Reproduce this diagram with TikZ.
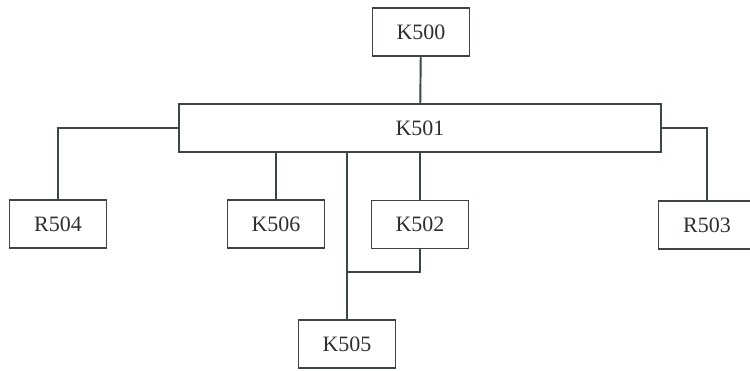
\documentclass[tikz,border=0pt]{standalone}
\usepackage{fontspec}
\setmainfont{Liberation Serif}
\usepackage{tikz}
\usetikzlibrary{positioning}

\definecolor{linec}{RGB}{60,70,68}
\definecolor{textc}{RGB}{45,48,48}

\begin{document}
\begin{tikzpicture}[x=0.02cm,y=-0.02cm,
  unit/.style={draw=linec,line width=1.1pt,fill=white,text=textc,inner sep=0pt,
    minimum width=1.94cm,minimum height=0.96cm,font=\fontsize{12.5}{14}\selectfont},
  wire/.style={draw=linec,line width=1.1pt}]
  \useasboundingbox[fill=white] (0,0) rectangle (750,371);
  \node[unit] (k500) at (421,32) {K500};
  \node[unit,minimum width=9.64cm] (k501) at (420,128) {K501};
  \node[unit] (r504) at (58,224) {R504};
  \node[unit] (k506) at (276,224) {K506};
  \node[unit] (k502) at (420,224.5) {K502};
  \node[unit] (r503) at (707,225) {R503};
  \node[unit] (k505) at (347,344) {K505};
  \coordinate (jn) at (347,272);
  \draw[wire] (k500) -- (k501);
  \draw[wire] (k501.west) -| (r504.north);
  \draw[wire] (k501.east) -| (r503.north);
  \draw[wire] (k506.north) -- (k506.north |- k501.south);
  \draw[wire] (k502.north) -- (k502.north |- k501.south);
  \draw[wire] (k505.north) -- (k505.north |- k501.south);
  \draw[wire] (k502.south) |- (jn);
\end{tikzpicture}
\end{document}
